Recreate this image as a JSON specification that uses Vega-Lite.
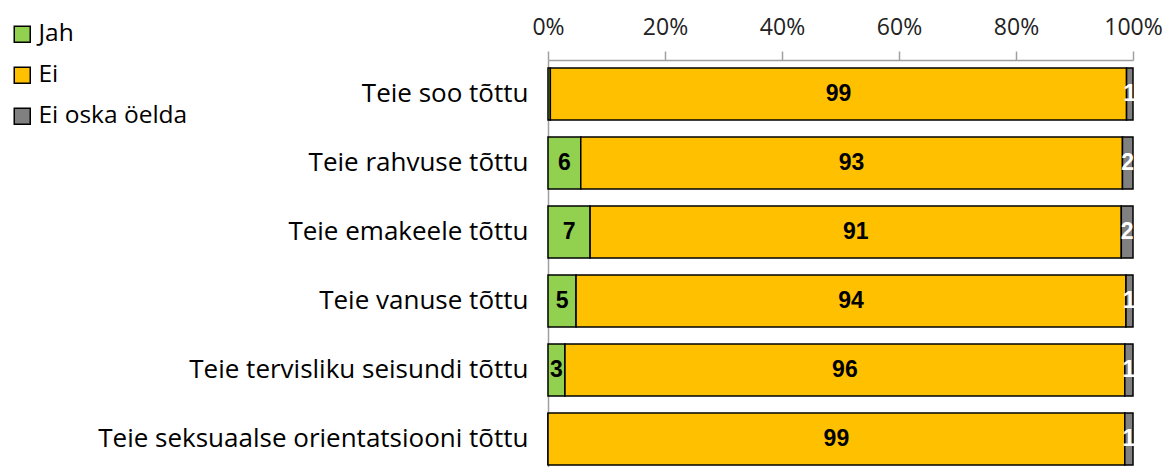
{
  "$schema": "https://vega.github.io/schema/vega-lite/v6.json",
  "autosize": "none",
  "width": 585,
  "height": 407,
  "padding": {"left": 548, "top": 60, "right": 38, "bottom": 0},
  "background": "white",
  "config": {"view": {"stroke": null}, "font": "Liberation Sans"},
  "data": {"values": [
    {"q": "Teie soo tõttu", "k": "Jah", "o": 1, "v": 0.4},
    {"q": "Teie soo tõttu", "k": "Ei", "o": 2, "v": 98.5},
    {"q": "Teie soo tõttu", "k": "Ei oska öelda", "o": 3, "v": 1.1},
    {"q": "Teie rahvuse tõttu", "k": "Jah", "o": 1, "v": 5.6},
    {"q": "Teie rahvuse tõttu", "k": "Ei", "o": 2, "v": 92.6},
    {"q": "Teie rahvuse tõttu", "k": "Ei oska öelda", "o": 3, "v": 1.8},
    {"q": "Teie emakeele tõttu", "k": "Jah", "o": 1, "v": 7.2},
    {"q": "Teie emakeele tõttu", "k": "Ei", "o": 2, "v": 90.8},
    {"q": "Teie emakeele tõttu", "k": "Ei oska öelda", "o": 3, "v": 2.0},
    {"q": "Teie vanuse tõttu", "k": "Jah", "o": 1, "v": 4.8},
    {"q": "Teie vanuse tõttu", "k": "Ei", "o": 2, "v": 94.0},
    {"q": "Teie vanuse tõttu", "k": "Ei oska öelda", "o": 3, "v": 1.2},
    {"q": "Teie tervisliku seisundi tõttu", "k": "Jah", "o": 1, "v": 2.9},
    {"q": "Teie tervisliku seisundi tõttu", "k": "Ei", "o": 2, "v": 95.7},
    {"q": "Teie tervisliku seisundi tõttu", "k": "Ei oska öelda", "o": 3, "v": 1.4},
    {"q": "Teie seksuaalse orientatsiooni tõttu", "k": "Jah", "o": 1, "v": 0.0},
    {"q": "Teie seksuaalse orientatsiooni tõttu", "k": "Ei", "o": 2, "v": 98.6},
    {"q": "Teie seksuaalse orientatsiooni tõttu", "k": "Ei oska öelda", "o": 3, "v": 1.4}
  ]},
  "encoding": {
    "y": {
      "field": "q", "type": "nominal", "sort": null, "title": null,
      "scale": {"paddingInner": 0.246, "paddingOuter": 0.0725, "align": 0.8},
      "axis": {"orient": "left", "ticks": false, "domainColor": "#a0a0a0", "domainWidth": 1.5, "labelFont": "Open Sans", "labelFontSize": 26, "labelColor": "black", "labelPadding": 20, "labelLimit": 540}
    },
    "x": {
      "field": "v", "type": "quantitative", "stack": "zero", "title": null,
      "scale": {"domain": [0, 100], "nice": false},
      "axis": {"orient": "top", "values": [0, 20, 40, 60, 80, 100], "labelExpr": "datum.value + '%'", "grid": false, "domainColor": "#a0a0a0", "domainWidth": 1.5, "tickColor": "#a0a0a0", "tickWidth": 1.5, "tickSize": 9, "labelFont": "Open Sans", "labelFontSize": 23, "labelColor": "#222222", "labelPadding": 12, "labelFlush": false}
    },
    "order": {"field": "o", "type": "quantitative"}
  },
  "layer": [
    {
      "mark": {"type": "bar", "stroke": "black", "strokeWidth": 1.5},
      "encoding": {
        "color": {
          "field": "k", "type": "nominal", "title": null,
          "scale": {"domain": ["Jah", "Ei", "Ei oska öelda"], "range": ["#92D050", "#FFC000", "#808080"]},
          "legend": {"orient": "none", "legendX": -538, "legendY": -38, "symbolType": "square", "symbolSize": 256, "symbolStrokeColor": "black", "symbolStrokeWidth": 1.5, "symbolOpacity": 1, "labelFont": "Open Sans", "labelFontSize": 24.5, "labelColor": "black", "rowPadding": 16, "labelOffset": 4}
        }
      }
    },
    {
      "mark": {"type": "text", "fontWeight": "bold", "fontSize": 23, "font": "Liberation Sans", "align": "center", "baseline": "middle"},
      "encoding": {
        "x": {"field": "v", "type": "quantitative", "stack": "zero", "bandPosition": 0.5},
        "text": {"condition": {"test": "datum.v < 1", "value": ""}, "field": "v", "type": "quantitative", "format": ".0f"},
        "color": {"condition": {"test": "datum.k === 'Ei oska öelda'", "value": "white"}, "value": "black"}
      }
    }
  ]
}
